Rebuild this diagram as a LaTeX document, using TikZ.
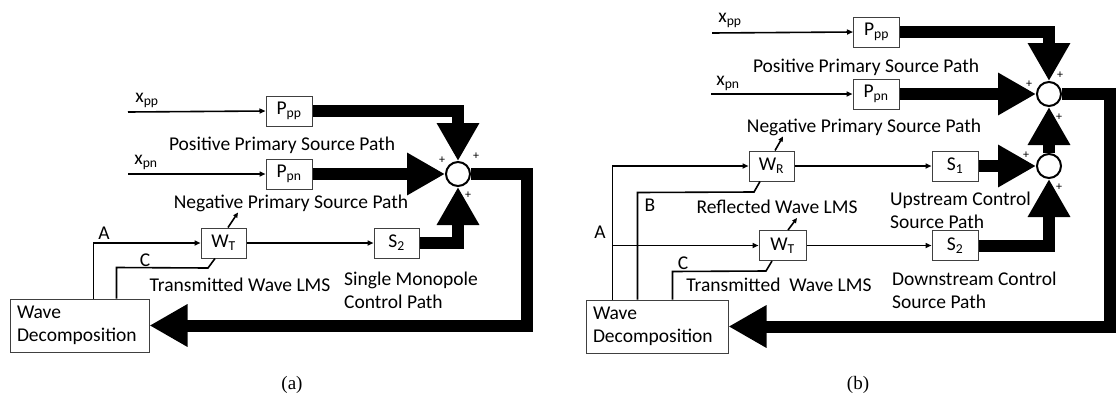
\documentclass[tikz,border=0pt]{standalone}
\usepackage{fontspec}
\setmainfont{Carlito}
\newfontfamily\capfont{Liberation Serif}
\usetikzlibrary{arrows.meta,positioning,calc}

\begin{document}
\begin{tikzpicture}[x=1pt,y=-1pt,
    font=\fontsize{19.5}{23.4}\selectfont,
    block/.style={draw=black!75,line width=1pt,fill=white,minimum width=46pt,minimum height=30pt,inner sep=0pt},
    sumnode/.style={draw,circle,line width=2pt,minimum size=24pt,inner sep=0pt,fill=white},
    decomp/.style={draw=black!75,line width=1pt,align=left,inner xsep=7pt,inner ysep=0pt,minimum height=53pt},
    sig/.style={line width=1.6pt,-{Triangle[length=6pt,width=5pt]}},
    feed/.style={line width=1.6pt},
    adapt/.style={line width=1.6pt,-{Triangle[length=5pt,width=4.5pt]}},
    bigflow/.style={line width=12pt,-{Triangle[length=38pt,width=40pt]}},
    plus/.style={font=\fontsize{12}{13}\selectfont,inner sep=0pt},
    lbl/.style={inner sep=0pt}]
      \useasboundingbox (0,0) rectangle (1117,410);

      % (a) single monopole
      \node[block] (ppa) at (289,111) {P\textsubscript{pp}};
      \node[block] (ppna) at (289,174) {P\textsubscript{pn}};
      \node[block,minimum width=45pt] (wta) at (223.5,243) {W\textsubscript{T}};
      \node[block,minimum width=45pt] (s2a) at (396.5,243) {S\textsubscript{2}};
      \node[sumnode] (suma) at (458,174) {};
      \node[decomp,text width=125pt] (deca) at (79.5,325.5) {Wave\\Decomposition};
      \node[lbl] (xppa) at (147,100) {x\textsubscript{pp}};
      \node[lbl] (xpna) at (146,162) {x\textsubscript{pn}};
      \coordinate (xppastart) at (128,112);
      \coordinate (xpnastart) at (128,174);
      \node[lbl] at (282,145) {Positive Primary Source Path};
      \node[lbl] at (291,203) {Negative Primary Source Path};
      \node[lbl] at (240,285) {Transmitted Wave LMS};
      \node[lbl,anchor=west,align=left] at (344,290) {Single Monopole\\Control Path};
      \node[lbl] at (104,233) {A};
      \node[lbl] at (145,260) {C};
      \node[plus] at (442,160) {+};
      \node[plus] at (476,156) {+};
      \node[plus] at (468,195) {+};
      \draw[sig] (xppastart) -- (ppa.west);
      \draw[sig] (xpnastart) -- (ppna.west);
      \coordinate (aa) at ([xshift=84pt]deca.north west);
      \draw[sig] (aa) |- (wta.west);
      \draw[feed] ([xshift=107pt]deca.north west) -- ++(0,-31) -- (208,268) -- ([xshift=-8.5pt]wta.south);
      \draw[adapt] ([xshift=4.5pt]wta.north) -- ++(10,-15);
      \draw[sig] (wta.east) -- (s2a.west);
      \draw[bigflow] (ppa.east) -| (suma.north);
      \draw[bigflow] (ppna.east) -- (suma.west);
      \draw[bigflow] (s2a.east) -| (suma.south);
      \draw[bigflow] (suma.east) -- ++(56,0) |- (deca.east);
      \node[font=\capfont\fontsize{19}{22}\selectfont] at (292,385) {(a)};

      % (b) two monopoles
      \node[block] (ppb) at (876.5,32) {P\textsubscript{pp}};
      \node[block] (ppnb) at (876,94) {P\textsubscript{pn}};
      \node[block,minimum width=45pt] (wrb) at (771.5,166) {W\textsubscript{R}};
      \node[block] (s1b) at (955,166) {S\textsubscript{1}};
      \node[block,minimum width=47pt] (wtb) at (782.5,245.5) {W\textsubscript{T}};
      \node[block] (s2b) at (955,245.5) {S\textsubscript{2}};
      \node[sumnode] (sumb) at (1049,94) {};
      \node[sumnode] (sumbb) at (1049,166) {};
      \node[decomp,text width=128pt] (decb) at (657,326.5) {Wave\\Decomposition};
      \node[lbl] (xppb) at (730,20) {x\textsubscript{pp}};
      \node[lbl] (xpnb) at (728,83) {x\textsubscript{pn}};
      \coordinate (xppbstart) at (712,33);
      \coordinate (xpnbstart) at (711,94);
      \node[lbl] at (866,67) {Positive Primary Source Path};
      \node[lbl] at (864,127) {Negative Primary Source Path};
      \node[lbl] at (777,207) {Reflected Wave LMS};
      \node[lbl] at (779,285) {Transmitted~~Wave LMS};
      \node[lbl,anchor=west,align=left] at (890,210) {Upstream Control\\Source Path};
      \node[lbl,anchor=west,align=left] at (892,290) {Downstream Control\\Source Path};
      \node[lbl] at (600,232) {A};
      \node[lbl] at (650,205) {B};
      \node[lbl] at (683,263) {C};
      \node[plus] at (1060,75) {+};
      \node[plus] at (1029,84) {+};
      \node[plus] at (1059,117) {+};
      \node[plus] at (1026,155) {+};
      \node[plus] at (1059,187) {+};
      \draw[sig] (xppbstart) -- (ppb.west);
      \draw[sig] (xpnbstart) -- (ppnb.west);
      \coordinate (ab) at ([xshift=27pt]decb.north west);
      \draw[sig] (ab) |- (wrb.west);
      \draw[sig] (ab |- wtb.west) -- (wtb.west);
      \draw[feed] ([xshift=52pt]decb.north west) -- ++(0,-107) -- (754,192) -- ([xshift=-11.5pt]wrb.south);
      \draw[feed] ([xshift=87pt]decb.north west) -- ++(0,-28) -- (766,271) -- ([xshift=-10.5pt]wtb.south);
      \draw[adapt] ([xshift=3.5pt]wrb.north) -- ++(8,-14);
      \draw[adapt] ([xshift=5.5pt]wtb.north) -- ++(9,-12);
      \draw[sig] (wrb.east) -- (s1b.west);
      \draw[sig] (wtb.east) -- (s2b.west);
      \draw[bigflow] (ppb.east) -| (sumb.north);
      \draw[bigflow] (ppnb.east) -- (sumb.west);
      \draw[bigflow] (s1b.east) -- (sumbb.west);
      \draw[bigflow] (sumbb.north) -- (sumb.south);
      \draw[bigflow] (s2b.east) -| (sumbb.south);
      \draw[bigflow] (sumb.east) -- ++(48,0) |- (decb.east);
      \node[font=\capfont\fontsize{19}{22}\selectfont] at (858,385) {(b)};
    \end{tikzpicture}
\end{document}
